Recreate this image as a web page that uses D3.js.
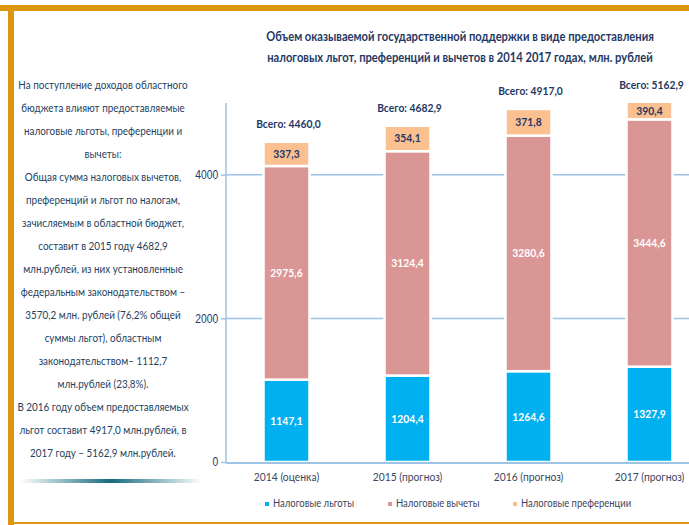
<!DOCTYPE html>
<html>
<head>
<meta charset="utf-8">
<script src="https://cdn.jsdelivr.net/npm/d3@7"></script>
<style>
  body { margin: 0; background: #fff; }
  svg { display: block; font-family: Lato, "Noto Sans", sans-serif; }
</style>
</head>
<body>
<svg id="chart" width="689" height="525"></svg>
<script>
// categories and series (млн. рублей)
const YEARS = ['2014 (оценка)', '2015 (прогноз)', '2016 (прогноз)', '2017 (прогноз)'];
const LGOTY = [1147.1, 1204.4, 1264.6, 1327.9];        // Налоговые льготы
const VYCHETY = [2975.6, 3124.4, 3280.6, 3444.6];      // Налоговые вычеты
const PREFERENCII = [337.3, 354.1, 371.8, 390.4];      // Налоговые преференции
const TOTALS = ['4460,0', '4682,9', '4917,0', '5162,9'];
const SERIES_NAMES = ['Налоговые льготы', 'Налоговые вычеты', 'Налоговые преференции'];
const Y_TICKS = [0, 2000, 4000];

const TITLE_LINES = [
    'Объем оказываемой государственной поддержки в виде предоставления',
    'налоговых льгот, преференций и вычетов в 2014 2017 годах, млн. рублей'
];
const NOTE_LINES = [
    'На поступление доходов областного',
    'бюджета влияют предоставляемые',
    'налоговые льготы, преференции и',
    'вычеты:',
    'Общая сумма налоговых вычетов,',
    'преференций и льгот по налогам,',
    'зачисляемым в областной бюджет,',
    'составит в 2015 году 4682,9',
    'млн.рублей, из них установленные',
    'федеральным законодательством –',
    '3570,2 млн. рублей (76,2% общей',
    'суммы льгот), областным',
    'законодательством– 1112,7',
    'млн.рублей (23,8%).',
    'В 2016 году объем предоставляемых',
    'льгот составит 4917,0 млн.рублей,  в',
    '2017 году – 5162,9 млн.рублей.'
];

const COLORS = ['#00b0f0', '#d99694', '#fac090'];
const NAVY = '#1f3864';
const GRID = '#9dc3e6';
const SQ = 0.86; // horizontal squeeze, the source font is a narrow one

const svg = d3.select('#chart');

// centred, squeezed text helper
function squeezed(g, data, cx, cy) {
    return g.selectAll('text')
        .data(data)
        .join('text')
        .attr('transform', (d, i) => `translate(${cx(d, i)}, ${cy(d, i)}) scale(${SQ}, 1)`)
        .attr('text-anchor', 'middle');
}

// frame
const ORANGE = '#de950f';
svg.append('rect').attr('x', 0).attr('y', 5).attr('width', 689).attr('height', 6).attr('fill', ORANGE);
svg.append('rect').attr('x', 8).attr('y', 5).attr('width', 6).attr('height', 520).attr('fill', ORANGE);
svg.append('rect').attr('x', 8).attr('y', 522).attr('width', 681).attr('height', 2).attr('fill', ORANGE);

// title
squeezed(svg.append('g'), TITLE_LINES, () => 460, (d, i) => 41 + i * 21)
    .style('font-size', '13px')
    .style('font-weight', 'bold')
    .style('fill', NAVY)
    .text(d => d);

// left note
squeezed(svg.append('g'), NOTE_LINES, () => 103, (d, i) => 89 + i * 23)
    .style('font-size', '11.5px')
    .style('fill', '#243f60')
    .text(d => d);

// fading line under note
const defs = svg.append('defs');
const grad = defs.append('linearGradient').attr('id', 'fade');
grad.append('stop').attr('offset', '0%').attr('stop-color', '#156a7e').attr('stop-opacity', 0);
grad.append('stop').attr('offset', '50%').attr('stop-color', '#156a7e').attr('stop-opacity', 1);
grad.append('stop').attr('offset', '100%').attr('stop-color', '#156a7e').attr('stop-opacity', 0);
svg.append('rect').attr('x', 20).attr('y', 479).attr('width', 182).attr('height', 4).attr('fill', 'url(#fade)');

// scales
const X0 = 226, Y0 = 462, YTOP = 103;
const x = d3.scaleBand().domain(YEARS).range([X0, X0 + 484]).paddingInner(0.62).paddingOuter(0.31);
const y = d3.scaleLinear().domain([0, 5000]).range([Y0, YTOP]);
const cx = d => x(d) + x.bandwidth() / 2;

// grid lines
svg.append('g').selectAll('line')
    .data(Y_TICKS.filter(d => d > 0))
    .join('line')
    .attr('x1', X0).attr('x2', 689)
    .attr('y1', d => y(d)).attr('y2', d => y(d))
    .style('stroke', GRID).style('stroke-width', 1.5);

// y axis
const yAxis = d3.axisLeft(y).tickValues(Y_TICKS).tickSize(5).tickPadding(4).tickFormat(d3.format('d'));
const yG = svg.append('g').attr('transform', `translate(${X0}, 0)`).call(yAxis);
yG.select('.domain').remove();
yG.selectAll('line').style('stroke', GRID).style('stroke-width', 1.5);
yG.selectAll('text').style('font-size', '12px').style('fill', NAVY).style('font-family', null)
    .attr('transform', `scale(${SQ}, 1)`);
svg.append('line').attr('x1', X0).attr('x2', X0).attr('y1', YTOP).attr('y2', Y0)
    .style('stroke', GRID).style('stroke-width', 1.5);

// stacked bars
const rows = YEARS.map((yr, i) => ({ year: yr, l: LGOTY[i], v: VYCHETY[i], p: PREFERENCII[i] }));
const stack = d3.stack().keys(['l', 'v', 'p'])(rows);

defs.append('clipPath').attr('id', 'plot')
    .append('rect').attr('x', X0).attr('y', YTOP).attr('width', 689 - X0).attr('height', Y0 - YTOP + 2);

const barsG = svg.append('g').attr('clip-path', 'url(#plot)');
stack.forEach((layer, k) => {
    barsG.append('g').selectAll('rect')
        .data(layer)
        .join('rect')
        .attr('x', d => x(d.data.year))
        .attr('width', x.bandwidth())
        .attr('y', d => y(d[1]))
        .attr('height', d => y(d[0]) - y(d[1]))
        .style('fill', COLORS[k])
        .style('stroke', '#fff')
        .style('stroke-width', 2.5);
});

// x baseline
svg.append('line').attr('x1', X0).attr('x2', 689).attr('y1', Y0 + 1).attr('y2', Y0 + 1)
    .style('stroke', GRID).style('stroke-width', 2);

// segment labels
const fmt = v => v.toFixed(1).replace('.', ',');
stack.forEach((layer, k) => {
    squeezed(svg.append('g'), layer,
        d => cx(d.data.year),
        d => (Math.max(y(d[1]), YTOP) + y(d[0])) / 2 + 4)
        .style('font-size', '12px')
        .style('font-weight', 'bold')
        .style('fill', k === 2 ? NAVY : '#fff')
        .text(d => fmt(d.data[layer.key]));
});

// totals
squeezed(svg.append('g'), stack[2],
    d => cx(d.data.year) + 2,
    d => Math.max(y(d[1]), YTOP) - 14)
    .style('font-size', '12px')
    .style('font-weight', 'bold')
    .style('fill', NAVY)
    .text((d, i) => 'Всего: ' + TOTALS[i]);

// x labels
squeezed(svg.append('g'), YEARS, d => cx(d), () => 481)
    .style('font-size', '12px')
    .style('fill', '#3b4660')
    .text(d => d);

// legend
const LEG_X = [265, 388, 513];
const leg = svg.append('g').selectAll('g')
    .data(SERIES_NAMES)
    .join('g')
    .attr('transform', (d, i) => `translate(${LEG_X[i]}, 507)`);
leg.append('rect').attr('x', 0).attr('y', -5).attr('width', 4).attr('height', 4)
    .style('fill', (d, i) => COLORS[i]);
leg.append('text').attr('transform', `translate(8, 0) scale(${SQ}, 1)`)
    .style('font-size', '11px').style('fill', '#3b4660')
    .text(d => d);
</script>
</body>
</html>
